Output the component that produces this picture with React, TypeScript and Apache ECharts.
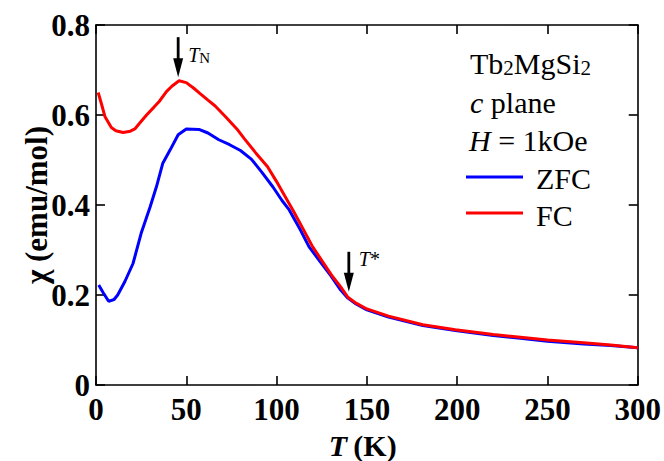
import React, { useEffect, useRef } from "react";
import * as echarts from "echarts";

// ZFC (blue) : temperature (K) and susceptibility (emu/mol)
const zfcT = [1.5, 4, 7, 10, 12, 16, 20.5, 25, 30, 33.5, 37, 41, 45.5, 50, 57, 62, 68, 74, 80, 86, 92, 98, 103, 107, 113, 118, 124, 130, 135.5, 139.5, 144, 150, 162, 181, 199, 220, 235, 250, 270, 285, 300];
const zfcChi = [0.222, 0.205, 0.186, 0.19, 0.2, 0.23, 0.27, 0.337, 0.396, 0.441, 0.493, 0.522, 0.556, 0.569, 0.568, 0.56, 0.545, 0.534, 0.521, 0.502, 0.472, 0.44, 0.41, 0.389, 0.346, 0.307, 0.275, 0.243, 0.211, 0.193, 0.18, 0.167, 0.151, 0.132, 0.121, 0.11, 0.104, 0.097, 0.091, 0.088, 0.083];

// FC (red)
const fcT = [1.2, 3, 5, 8.5, 11, 15, 19, 21.5, 24, 28, 32, 35, 39, 42, 46, 50, 54, 57.5, 62, 66, 72, 78, 82, 88, 95, 100, 104, 109, 114, 120, 126, 131, 135.5, 139.5, 144, 150, 162, 181, 199, 220, 235, 250, 270, 285, 300];
const fcChi = [0.65, 0.625, 0.596, 0.572, 0.565, 0.561, 0.564, 0.569, 0.581, 0.6, 0.617, 0.63, 0.652, 0.664, 0.676, 0.672, 0.66, 0.648, 0.633, 0.62, 0.595, 0.569, 0.548, 0.518, 0.485, 0.452, 0.424, 0.389, 0.352, 0.307, 0.271, 0.241, 0.218, 0.195, 0.182, 0.169, 0.153, 0.134, 0.123, 0.112, 0.106, 0.1, 0.094, 0.089, 0.083];

// axis ranges
const xRange = [0, 300];
const xStep = 50;
const yRange = [0, 0.8];
const yStep = 0.2;

// annotation arrows: [T, chi top, chi tip]
const arrowTN = [45.5, 0.773, 0.684];
const arrowTS = [140, 0.296, 0.207];

const FONT = "Liberation Serif";

export default function App() {
  const ref = useRef<HTMLDivElement>(null);
  useEffect(() => {
    if (!ref.current) return;
    const chart = echarts.init(ref.current, null, { renderer: "svg" });
    const axisCommon = {
      axisLine: { show: true, onZero: false, lineStyle: { color: "#000", width: 1.6 } },
      axisTick: { show: true, inside: true, length: 9, lineStyle: { color: "#000", width: 1.6 } },
      splitLine: { show: false },
    };
    const labelStyle = { color: "#000", fontFamily: FONT, fontWeight: "bold" as const, fontSize: 31 };
    chart.setOption({
      animation: false,
      grid: { left: 96, right: 26, top: 25, bottom: 76, containLabel: false },
      xAxis: [
        { type: "value", min: xRange[0], max: xRange[1], interval: xStep, position: "bottom", ...axisCommon,
          axisLabel: { ...labelStyle, margin: 9 } },
        { type: "value", min: xRange[0], max: xRange[1], interval: xStep, position: "top", ...axisCommon,
          axisLabel: { show: false } },
      ],
      yAxis: [
        { type: "value", min: yRange[0], max: yRange[1], interval: yStep, position: "left", ...axisCommon,
          axisLabel: { ...labelStyle, margin: 6, formatter: (v: number) => (v === 0 ? "0" : v.toFixed(1)) } },
        { type: "value", min: yRange[0], max: yRange[1], interval: yStep, position: "right", ...axisCommon,
          axisLabel: { show: false } },
      ],
      series: [
        { type: "line", name: "ZFC", data: zfcT.map((t, i) => [t, zfcChi[i]]), showSymbol: false, smooth: false,
          lineStyle: { color: "#0000ff", width: 3 }, itemStyle: { color: "#0000ff" }, z: 2 },
        { type: "line", name: "FC", data: fcT.map((t, i) => [t, fcChi[i]]), showSymbol: false, smooth: false,
          lineStyle: { color: "#ff0000", width: 3 }, itemStyle: { color: "#ff0000" }, z: 3 },
      ],
    });

    const toPx = (t: number, c: number) => chart.convertToPixel({ xAxisIndex: 0, yAxisIndex: 0 }, [t, c]) as number[];
    const arrow = (a: number[]) => {
      const top = toPx(a[0], a[1]);
      const tip = toPx(a[0], a[2]);
      const headH = 19;
      return [
        { type: "line", shape: { x1: top[0], y1: top[1], x2: tip[0], y2: tip[1] - headH + 2 }, style: { stroke: "#000", lineWidth: 2.8 } },
        { type: "polygon", shape: { points: [[tip[0] - 5, tip[1] - headH], [tip[0] + 5, tip[1] - headH], [tip[0], tip[1]]] }, style: { fill: "#000" } },
      ];
    };
    const tn = toPx(arrowTN[0], arrowTN[1]);
    const ts = toPx(arrowTS[0], arrowTS[1]);

    const legendRich = {
      n: { fontFamily: FONT, fontSize: 30, lineHeight: 30, fill: "#000" },
      i: { fontFamily: FONT, fontSize: 30, lineHeight: 30, fontStyle: "italic", fill: "#000" },
      s: { fontFamily: FONT, fontSize: 21, lineHeight: 10, fill: "#000", verticalAlign: "bottom" },
    };

    chart.setOption({
      graphic: [
        ...arrow(arrowTN),
        ...arrow(arrowTS),
        { type: "text", x: tn[0] + 10, y: tn[1] + 18, style: {
          text: "{i|T}{s|N}", verticalAlign: "middle", align: "left",
          rich: {
            i: { fontFamily: FONT, fontSize: 20, lineHeight: 20, fontStyle: "italic", fill: "#000" },
            s: { fontFamily: FONT, fontSize: 15, lineHeight: 6, fill: "#000", verticalAlign: "bottom" },
          } } },
        { type: "text", x: ts[0] + 10, y: ts[1] + 7, style: {
          text: "{i|T}{n|*}", verticalAlign: "middle", align: "left",
          rich: {
            i: { fontFamily: FONT, fontSize: 20, lineHeight: 20, fontStyle: "italic", fill: "#000" },
            n: { fontFamily: FONT, fontSize: 20, lineHeight: 20, fill: "#000" },
          } } },
        { type: "text", x: 470, y: 63, style: { text: "{n|Tb}{s|2}{n|MgSi}{s|2}", verticalAlign: "middle", rich: legendRich } },
        { type: "text", x: 470, y: 102, style: { text: "{i|c}{n| plane}", verticalAlign: "middle", rich: legendRich } },
        { type: "text", x: 469, y: 140, style: { text: "{i|H}{n| = 1kOe}", verticalAlign: "middle", rich: legendRich } },
        { type: "line", shape: { x1: 466, y1: 177, x2: 523, y2: 177 }, style: { stroke: "#0000ff", lineWidth: 3 } },
        { type: "text", x: 536, y: 178, style: { text: "ZFC", verticalAlign: "middle", fontFamily: FONT, fontSize: 30, fill: "#000" } },
        { type: "line", shape: { x1: 466, y1: 213, x2: 523, y2: 213 }, style: { stroke: "#ff0000", lineWidth: 3 } },
        { type: "text", x: 536, y: 215, style: { text: "FC", verticalAlign: "middle", fontFamily: FONT, fontSize: 30, fill: "#000" } },
        { type: "text", x: 338, y: 445, style: {
          text: "T", align: "center", verticalAlign: "middle",
          fontFamily: FONT, fontSize: 30, fontStyle: "italic", fontWeight: "bold", fill: "#000" } },
        { type: "text", x: 375, y: 445, style: {
          text: "(K)", align: "center", verticalAlign: "middle",
          fontFamily: FONT, fontSize: 30, fontWeight: "bold", fill: "#000" } },
        { type: "text", x: 36, y: 205, rotation: Math.PI / 2, style: {
          text: "χ (emu/mol)", align: "center", verticalAlign: "middle",
          fontFamily: FONT, fontSize: 31, fontWeight: "bold", fill: "#000" } },
      ],
    });
    return () => chart.dispose();
  }, []);
  return <div ref={ref} style={{ position: "absolute", left: 0, top: 0, width: 664, height: 461, background: "#fff" }} />;
}
